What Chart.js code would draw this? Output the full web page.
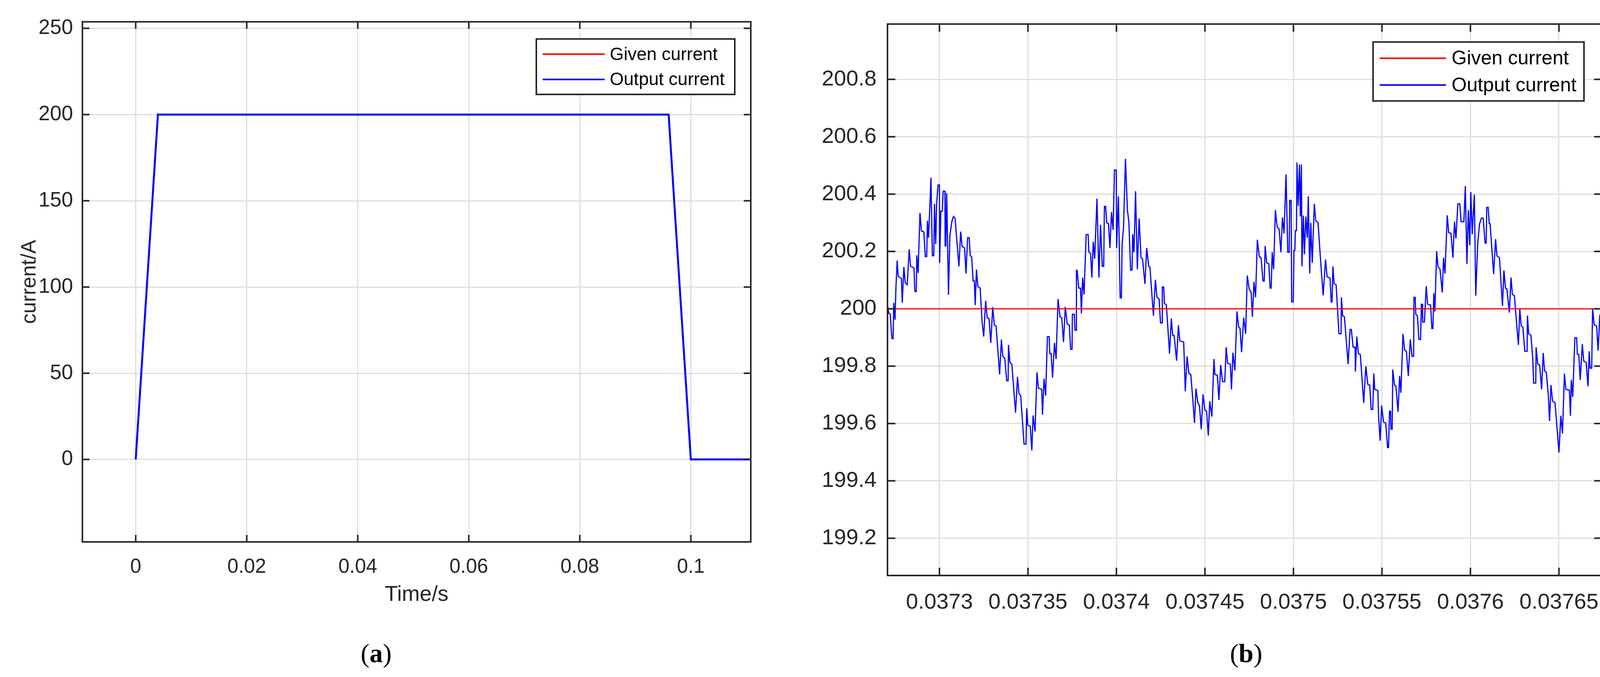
<!DOCTYPE html>
<html>
<head>
<meta charset="utf-8">
<script src="https://cdn.jsdelivr.net/npm/chart.js@4/dist/chart.umd.min.js"></script>
<style>
  html, body { margin: 0; padding: 0; background: #fff; }
  body { width: 4143px; height: 1734px; position: relative; overflow: hidden; }
  .panel { position: absolute; top: 0; height: 1734px; }
  .cap { position: absolute; top: 1628px; font-family: "Liberation Serif", serif; font-size: 68px; line-height: 90px; color: #000; transform: translateX(-50%); }
</style>
</head>
<body>
<div class="panel" style="left:0;width:1930px"><canvas id="chartA"></canvas></div>
<div class="panel" style="left:2000px;width:2143px"><canvas id="chartB"></canvas></div>
<div class="cap" style="left:963px">(<b>a</b>)</div>
<div class="cap" style="left:3190px">(<b>b</b>)</div>
<script>
// panel (a): full run
const timeA = [0, 0.004, 0.096, 0.1, 0.111];
const givenA = [0, 200, 200, 0, 0];
const outputA = [0, 200, 200, 0, 0];
const ticksAx = [0, 0.02, 0.04, 0.06, 0.08, 0.1];
const ticksAy = [0, 50, 100, 150, 200, 250];

// panel (b): zoom around 0.0373-0.03767 s, time in microseconds
const timeB = [37270.7,37271.4,37272.2,37273.1,37273.8,37274.2,37274.9,37275.4,37276.1,37276.7,37278.5,37279.0,37279.9,37280.7,37281.8,37282.9,37283.7,37285.6,37286.1,37286.9,37287.2,37288.0,37288.2,37289.0,37289.8,37291.2,37292.0,37292.8,37293.2,37293.8,37294.6,37295.2,37296.0,37296.8,37297.2,37297.9,37298.4,37299.2,37300.0,37300.1,37300.8,37301.6,37302.1,37303.1,37303.2,37303.6,37304.1,37305.1,37305.9,37307.0,37307.9,37308.8,37311.0,37312.0,37312.8,37314.2,37315.0,37315.9,37316.8,37317.4,37318.2,37319.0,37319.7,37320.2,37320.9,37321.7,37323.0,37324.1,37325.0,37326.1,37327.0,37328.0,37329.0,37330.1,37331.0,37332.0,37334.0,37335.0,37335.8,37336.9,37338.0,37338.8,37339.0,37339.8,37340.9,37343.0,37344.1,37344.9,37345.9,37347.8,37348.9,37349.3,37349.9,37351.3,37352.2,37352.9,37354.0,37355.1,37355.9,37357.8,37358.2,37359.1,37360.0,37361.0,37362.0,37362.3,37363.1,37363.9,37365.0,37365.9,37367.0,37368.1,37369.1,37370.1,37371.1,37372.2,37373.4,37374.1,37374.9,37375.1,37376.2,37376.6,37377.3,37377.4,37377.8,37378.7,37379.7,37380.2,37380.9,37381.7,37382.9,37384.0,37384.4,37385.4,37386.1,37386.9,37387.7,37389.0,37390.1,37391.0,37392.0,37392.8,37393.2,37393.9,37394.5,37395.5,37396.3,37397.2,37398.1,37398.9,37399.9,37400.1,37401.1,37402.1,37402.8,37403.2,37404.0,37405.1,37406.2,37407.0,37408.0,37408.8,37409.2,37409.9,37410.8,37411.8,37412.8,37413.9,37414.7,37416.1,37417.1,37418.2,37418.9,37420.9,37422.0,37422.9,37424.1,37424.9,37425.8,37425.9,37426.7,37427.1,37428.2,37430.0,37431.0,37431.8,37432.6,37434.0,37435.0,37435.8,37438.0,37438.9,37439.9,37440.9,37442.0,37443.1,37444.1,37444.9,37446.0,37446.9,37447.9,37448.9,37450.0,37450.9,37451.9,37452.7,37453.9,37455.1,37455.6,37457.0,37457.9,37458.9,37459.9,37461.2,37462.0,37462.8,37464.3,37465.0,37465.8,37466.9,37468.1,37469.0,37469.8,37470.7,37471.9,37473.0,37473.9,37475.0,
37476.1,37476.8,37477.7,37478.6,37479.6,37480.7,37481.7,37482.8,37483.5,37484.0,37484.9,37486.1,37486.8,37487.4,37488.0,37488.8,37489.8,37490.8,37491.9,37492.9,37493.8,37494.7,37495.8,37496.8,37497.6,37497.9,37498.7,37499.0,37499.9,37500.3,37500.8,37501.1,37501.7,37502.0,37502.7,37503.4,37503.9,37504.5,37504.8,37505.6,37506.2,37507.0,37507.8,37508.4,37509.2,37509.8,37510.6,37511.8,37512.6,37513.9,37515.4,37516.8,37518.1,37519.0,37520.7,37521.3,37521.8,37522.3,37523.0,37524.1,37525.7,37526.9,37527.1,37527.8,37528.8,37530.9,37532.0,37532.7,37533.7,37534.8,37535.0,37535.8,37536.7,37537.8,37539.7,37540.9,37542.0,37543.1,37543.9,37544.8,37545.4,37545.9,37547.7,37548.1,37549.0,37549.8,37550.9,37552.1,37553.2,37553.7,37554.3,37554.9,37555.1,37555.8,37556.1,37557.1,37557.9,37559.1,37560.0,37560.7,37561.9,37562.8,37563.8,37564.9,37566.0,37567.0,37567.9,37568.1,37568.8,37569.1,37570.0,37570.9,37571.8,37572.3,37572.8,37573.0,37574.0,37575.0,37575.8,37577.5,37578.2,37578.8,37579.3,37579.9,37580.9,37581.7,37582.8,37584.1,37584.8,37585.6,37586.9,37587.7,37589.0,37590.1,37591.0,37591.8,37592.9,37594.0,37594.7,37596.3,37597.1,37598.0,37598.8,37599.6,37600.2,37601.0,37602.2,37603.0,37604.1,37605.1,37606.2,37607.2,37608.3,37608.9,37609.2,37610.0,37610.6,37611.1,37613.1,37614.2,37615.0,37616.4,37618.1,37618.9,37619.8,37620.6,37622.0,37622.9,37623.7,37624.8,37627.1,37627.9,37628.7,37629.6,37630.7,37632.0,37632.2,37632.9,37634.2,37635.2,37635.7,37636.9,37637.1,37638.0,37639.1,37640.2,37641.1,37641.9,37642.9,37644.0,37644.7,37645.5,37646.4,37647.8,37650.0,37651.1,37652.0,37653.1,37653.9,37655.9,37656.5,37657.0,37657.8,37659.0,37660.0,37660.4,37661.2,37662.0,37663.2,37664.0,37665.4,37666.4,37667.1,37667.6,37668.5,37669.0,37669.9,37671.3,37672.1,37673.1,37674.2];
const outputB = [200.013,199.984,199.981,199.896,199.896,200.021,199.962,200.072,200.168,200.113,200.106,200.021,200.146,200.090,200.084,200.207,200.148,200.143,200.060,200.060,200.187,200.125,200.182,200.334,200.272,200.268,200.182,200.182,200.307,200.248,200.359,200.457,200.185,200.185,200.366,200.226,200.366,200.432,200.432,200.160,200.341,200.341,200.410,200.410,200.219,200.219,200.403,200.049,200.256,200.304,200.322,200.316,200.148,200.269,200.218,200.212,200.123,200.248,200.248,200.185,200.182,200.098,200.098,200.013,200.137,200.078,200.072,199.954,199.903,200.028,199.969,199.966,199.881,200.006,199.943,199.940,199.771,199.893,199.834,199.828,199.749,199.749,199.874,199.813,199.807,199.638,199.763,199.705,199.697,199.528,199.528,199.653,199.594,199.590,199.506,199.628,199.572,199.778,199.724,199.719,199.631,199.756,199.697,199.903,199.903,199.844,199.844,199.760,199.881,199.825,200.034,199.972,199.969,199.884,200.007,199.947,199.943,199.859,199.859,199.981,199.981,199.925,199.925,200.134,200.134,200.072,200.072,199.984,200.109,200.050,200.259,200.259,200.198,200.193,200.109,200.234,200.175,200.384,200.109,200.293,200.148,200.148,200.357,200.357,200.300,200.297,200.212,200.337,200.275,200.484,200.484,200.212,200.392,200.038,200.038,200.226,200.285,200.523,200.344,200.304,200.135,200.135,200.260,200.197,200.410,200.138,200.315,200.178,200.175,200.087,200.212,200.148,200.146,199.976,200.101,200.040,200.034,199.951,199.951,200.076,200.076,200.019,200.013,199.844,199.966,199.907,199.907,199.819,199.943,199.888,199.884,199.712,199.834,199.775,199.771,199.687,199.602,199.722,199.672,199.663,199.580,199.702,199.646,199.643,199.558,199.678,199.624,199.825,199.771,199.768,199.682,199.804,199.746,199.746,199.866,199.810,199.807,199.719,199.847,199.785,199.991,199.937,199.932,199.849,199.969,199.913,200.116,200.069,
200.057,199.972,200.094,200.040,200.241,200.182,200.178,200.097,200.097,200.219,200.160,200.157,200.072,200.072,200.197,200.138,200.344,200.285,200.278,200.197,200.319,200.263,200.469,200.197,200.197,200.378,200.378,200.024,200.024,200.204,200.204,200.273,200.273,200.510,200.359,200.503,200.322,200.503,200.148,200.325,200.190,200.322,200.248,200.392,200.123,200.300,200.160,200.366,200.307,200.300,200.163,200.047,200.172,200.112,200.107,200.024,200.024,200.148,200.087,200.084,199.913,199.913,200.040,199.976,199.972,199.807,199.928,199.928,199.866,199.866,199.781,199.903,199.844,199.840,199.672,199.800,199.737,199.734,199.649,199.649,199.774,199.719,199.715,199.624,199.540,199.663,199.605,199.602,199.516,199.516,199.643,199.643,199.580,199.580,199.788,199.734,199.731,199.641,199.766,199.707,199.913,199.856,199.852,199.766,199.893,199.834,199.834,200.040,200.040,199.981,199.976,199.893,199.893,200.016,200.016,199.954,199.954,200.079,200.016,200.013,199.931,199.931,200.054,199.991,200.201,200.146,200.138,200.057,200.178,200.123,200.326,200.266,200.263,200.178,200.304,200.245,200.366,200.366,200.304,200.304,200.428,200.157,200.344,200.222,200.407,200.260,200.398,200.046,200.226,200.295,200.316,200.316,200.229,200.229,200.354,200.354,200.297,200.297,200.121,200.243,200.184,200.178,200.010,200.134,200.072,200.069,199.987,200.109,200.050,200.046,199.874,199.999,199.940,199.937,199.852,199.852,199.976,199.913,199.907,199.827,199.741,199.741,199.866,199.807,199.804,199.719,199.846,199.784,199.778,199.697,199.609,199.734,199.678,199.672,199.499,199.627,199.565,199.774,199.719,199.716,199.627,199.752,199.693,199.899,199.899,199.841,199.841,199.752,199.877,199.818,199.813,199.730,199.852,199.793,199.793,200.001,199.944,199.940,199.854,199.979,199.929];
const givenBLevel = 200;
const ticksBx = [37300, 37350, 37400, 37450, 37500, 37550, 37600, 37650];
const ticksBy = [199.2, 199.4, 199.6, 199.8, 200, 200.2, 200.4, 200.6, 200.8];

const FONT = "'Liberation Sans', Arial, sans-serif";
const INK = '#262626';

// MATLAB-like frame, inward tick marks and legend box
const framePlugin = {
  id: 'frame',
  afterDatasetsDraw(chart, args, opts) {
    const { ctx, chartArea: a, scales } = chart;
    ctx.save();
    ctx.strokeStyle = INK;
    ctx.lineWidth = 4;
    const tl = opts.tick || 18;
    ctx.beginPath();
    scales.x.ticks.forEach(t => {
      const px = scales.x.getPixelForValue(t.value);
      ctx.moveTo(px, a.bottom); ctx.lineTo(px, a.bottom - tl);
      ctx.moveTo(px, a.top); ctx.lineTo(px, a.top + tl);
    });
    scales.y.ticks.forEach(t => {
      const py = scales.y.getPixelForValue(t.value);
      ctx.moveTo(a.left, py); ctx.lineTo(a.left + tl, py);
      ctx.moveTo(a.right, py); ctx.lineTo(a.right - tl, py);
    });
    ctx.stroke();
    ctx.strokeRect(a.left, a.top, a.right - a.left, a.bottom - a.top);

    // legend
    const L = opts.legend;
    const x0 = a.right - L.right - L.w, y0 = a.top + L.top;
    ctx.fillStyle = '#fff';
    ctx.fillRect(x0, y0, L.w, L.h);
    ctx.lineWidth = 4;
    ctx.strokeStyle = INK;
    ctx.strokeRect(x0, y0, L.w, L.h);
    ctx.font = L.font + 'px ' + FONT;
    ctx.textBaseline = 'middle';
    chart.data.datasets.forEach((ds, i) => {
      const yy = y0 + L.h * (0.275 + i * 0.455);
      ctx.strokeStyle = ds.borderColor;
      ctx.lineWidth = 4;
      ctx.beginPath();
      ctx.moveTo(x0 + L.lx, yy); ctx.lineTo(x0 + L.lx + L.ll, yy);
      ctx.stroke();
      ctx.fillStyle = '#000';
      ctx.fillText(ds.label, x0 + L.tx, yy + 2);
    });
    ctx.restore();
  }
};

function axisOpts(min, max, ticks, size, pad, fmt, extra) {
  return Object.assign({
    type: 'linear', min, max,
    afterBuildTicks: s => { s.ticks = ticks.map(v => ({ value: v })); },
    grid: { color: '#dedede', lineWidth: 3, drawTicks: false },
    border: { display: false },
    ticks: { color: INK, font: { family: FONT, size }, padding: pad, callback: fmt, maxRotation: 0, autoSkip: false }
  }, extra);
}

new Chart(document.getElementById('chartA'), {
  type: 'line',
  data: {
    datasets: [
      { label: 'Given current', order: 1, data: timeA.map((t, i) => ({ x: t, y: givenA[i] })), borderColor: '#ff0000', borderWidth: 3, pointRadius: 0 },
      { label: 'Output current', order: 0, data: timeA.map((t, i) => ({ x: t, y: outputA[i] })), borderColor: '#0000ff', borderWidth: 5, pointRadius: 0 }
    ]
  },
  options: {
    responsive: true, maintainAspectRatio: false, animation: false,
    layout: { padding: { top: 37, right: 8, bottom: 169, left: 45 } },
    plugins: { legend: { display: false }, tooltip: { enabled: false },
      frame: { tick: 18, legend: { right: 41, top: 44, w: 508, h: 142, font: 46, lx: 16, ll: 159, tx: 188 } } },
    scales: {
      x: axisOpts(-0.0096, 0.1108, ticksAx, 51, 34, v => String(+v.toFixed(2)), {
        afterFit: s => { s.height = 177; },
        title: { display: true, text: 'Time/s', color: INK, font: { family: FONT, size: 55 }, padding: { top: 0, bottom: 8 } }
      }),
      y: axisOpts(-47.8, 253.8, ticksAy, 53, 24, v => String(v), {
        afterFit: s => { s.width = 166; },
        title: { display: true, text: 'current/A', color: INK, font: { family: FONT, size: 53 }, padding: 0 }
      })
    }
  },
  plugins: [framePlugin]
});

new Chart(document.getElementById('chartB'), {
  type: 'line',
  data: {
    datasets: [
      { label: 'Given current', data: [{ x: timeB[0], y: givenBLevel }, { x: timeB[timeB.length - 1], y: givenBLevel }], borderColor: '#ff0000', borderWidth: 3, pointRadius: 0 },
      { label: 'Output current', data: timeB.map((t, i) => ({ x: t, y: outputB[i] })), borderColor: '#0000ff', borderWidth: 3, pointRadius: 0 }
    ]
  },
  options: {
    responsive: true, maintainAspectRatio: false, animation: false,
    layout: { padding: { top: 26, right: 42, bottom: 0, left: 0 } },
    plugins: { legend: { display: false }, tooltip: { enabled: false },
      frame: { tick: 20, legend: { right: 46, top: 46, w: 540, h: 151, font: 50, lx: 17, ll: 170, tx: 201 } } },
    scales: {
      x: axisOpts(37270.65, 37674.3, ticksBx, 56, 36, v => String(+(v / 1e6).toFixed(5)), {
        afterFit: s => { s.height = 260; }
      }),
      y: axisOpts(199.07, 200.993, ticksBy, 56, 28, v => String(+v.toFixed(1)), {
        afterFit: s => { s.width = 272; }
      })
    }
  },
  plugins: [framePlugin]
});
</script>
</body>
</html>
